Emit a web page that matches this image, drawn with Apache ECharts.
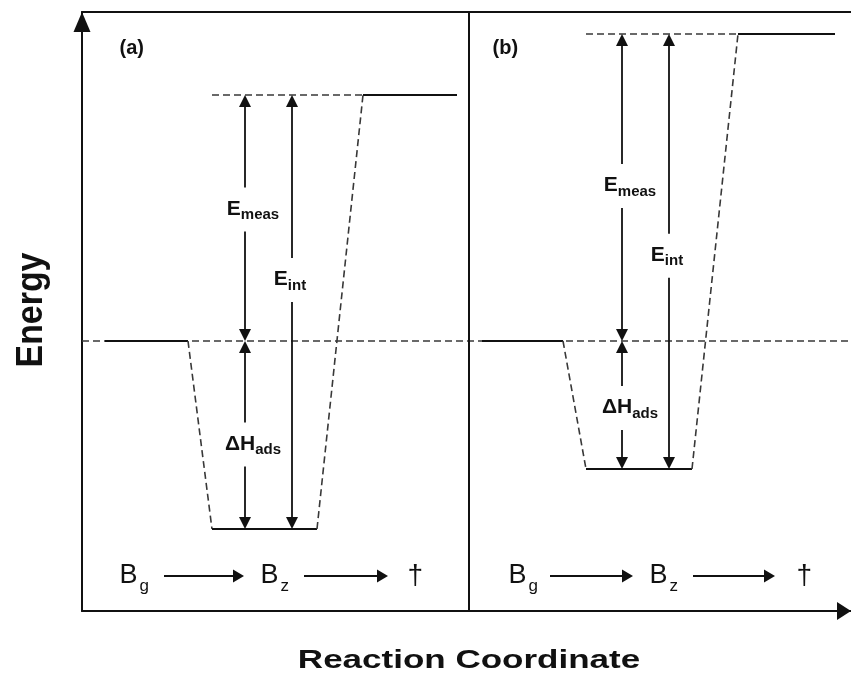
<!DOCTYPE html>
<html>
<head>
<meta charset="utf-8">
<script src="https://cdn.jsdelivr.net/npm/echarts@6/dist/echarts.min.js"></script>
<style>
  html, body { margin: 0; padding: 0; background: #fff; }
  #chart { width: 851px; height: 676px; }
</style>
</head>
<body>
<div id="chart"></div>
<script>
const FONT = '"Liberation Sans", Arial, sans-serif';
const INK = '#111';
const DASH = '#383838';

// Energies relative to the gas-phase level (schematic units).
const panelNames = ['(a)', '(b)'];
const gasEnergy = [0, 0];
const adsorbedEnergy = [-188, -128];
const transitionEnergy = [246, 307];

// Reaction-coordinate extent of each plateau, per panel.
const gasRange = [[23, 106], [400, 481]];
const adsorbedRange = [[130, 235], [504, 610]];
const transitionRange = [[281, 375], [656, 753]];
const panelDivider = 387;
const coordMax = 769;
const energyMin = -270;
const energyMax = 329;

// Vertical arrows: E_meas / ΔH_ads share one position, E_int sits at another.
const measArrowX = [163, 540];
const intArrowX = [210, 587];
// Where along its arrow each label sits (fraction of the arrow span).
const measLabelFrac = [0.535, 0.505];
const intLabelFrac = [0.574, 0.49];
const adsLabelFrac = [0.55, 0.523];

// B_g -> B_z -> dagger scheme along the foot of each panel.
const schemeEnergy = -235;
const schemeText = ['{b|B}{s|g}', '{b|B}{s|z}', '{d|\u2020}'];
const schemeTextX = [[37, 178, 325], [426, 567, 714]];
const schemeArrowX = [[[82, 162], [222, 306]], [[468, 551], [611, 693]]];
const panelLabelPos = [[37, 293], [410, 293]];

const series = [];

function segment(points, dashed, width, color) {
  series.push({
    type: 'line',
    data: points,
    symbol: 'none',
    silent: true,
    animation: false,
    z: 2,
    lineStyle: { color: color || INK, width: width || 2, type: dashed ? [7, 4] : 'solid' }
  });
}

// frame pieces: gas-phase reference and panel divider
segment([[0, 0], [coordMax, 0]], true, 1.6, DASH);
segment([[panelDivider, energyMin], [panelDivider, energyMax]], false, 2, INK);

panelNames.forEach(function (_, p) {
  const g = gasEnergy[p], a = adsorbedEnergy[p], t = transitionEnergy[p];
  segment([[gasRange[p][0], g], [gasRange[p][1], g]], false, 2, INK);
  segment([[gasRange[p][1], g], [adsorbedRange[p][0], a]], true, 1.6, DASH);
  segment([[adsorbedRange[p][0], a], [adsorbedRange[p][1], a]], false, 2, INK);
  segment([[adsorbedRange[p][1], a], [transitionRange[p][0], t]], true, 1.6, DASH);
  segment([[transitionRange[p][0], t], [transitionRange[p][1], t]], false, 2, INK);
  segment([[adsorbedRange[p][0], t], [transitionRange[p][0], t]], true, 1.6, DASH);
});

// arrows: [x1, y1, x2, y2, heads]; heads 2 = both ends, 1 = end only
const arrowData = [];
panelNames.forEach(function (_, p) {
  arrowData.push([measArrowX[p], gasEnergy[p], measArrowX[p], transitionEnergy[p], 2]);
  arrowData.push([measArrowX[p], gasEnergy[p], measArrowX[p], adsorbedEnergy[p], 2]);
  arrowData.push([intArrowX[p], adsorbedEnergy[p], intArrowX[p], transitionEnergy[p], 2]);
  schemeArrowX[p].forEach(function (r) {
    arrowData.push([r[0], schemeEnergy, r[1], schemeEnergy, 1]);
  });
});

function renderArrow(params, api) {
  const a = api.coord([api.value(0), api.value(1)]);
  const b = api.coord([api.value(2), api.value(3)]);
  const both = api.value(4) === 2;
  const horizontal = Math.abs(a[1] - b[1]) < 1;
  const L = horizontal ? 11 : 12;
  const W = horizontal ? 13 : 12;
  const dx = b[0] - a[0], dy = b[1] - a[1];
  const len = Math.hypot(dx, dy);
  const ux = dx / len, uy = dy / len, nx = -uy, ny = ux;
  function head(tip, sx, sy) {
    return {
      type: 'polygon',
      shape: { points: [
        [tip[0], tip[1]],
        [tip[0] - sx * L + nx * W / 2, tip[1] - sy * L + ny * W / 2],
        [tip[0] - sx * L - nx * W / 2, tip[1] - sy * L - ny * W / 2]
      ] },
      style: { fill: INK }
    };
  }
  const start = both ? [a[0] + ux * (L - 1), a[1] + uy * (L - 1)] : a;
  const end = [b[0] - ux * (L - 1), b[1] - uy * (L - 1)];
  const children = [
    { type: 'line', shape: { x1: start[0], y1: start[1], x2: end[0], y2: end[1] },
      style: { stroke: INK, lineWidth: horizontal ? 2 : 1.8 } },
    head(b, ux, uy)
  ];
  if (both) children.push(head(a, -ux, -uy));
  return { type: 'group', children: children };
}

series.push({
  type: 'custom',
  silent: true,
  animation: false,
  z: 3,
  dimensions: ['x1', 'y1', 'x2', 'y2', 'heads'],
  encode: { x: [0, 2], y: [1, 3] },
  data: arrowData,
  renderItem: renderArrow
});

const rich = {
  E: { fontSize: 21, fontWeight: 'bold', fontFamily: FONT, color: INK },
  sub: { fontSize: 15, fontWeight: 'bold', fontFamily: FONT, color: INK, padding: [12, 0, 0, 0] },
  b: { fontSize: 27, fontFamily: FONT, color: INK },
  s: { fontSize: 17, fontFamily: FONT, color: INK, padding: [20, 0, 0, 2] },
  d: { fontSize: 28, fontFamily: FONT, color: INK },
  p: { fontSize: 20, fontWeight: 'bold', fontFamily: FONT, color: INK }
};

const labelData = [];
// label centred on its arrow, nudged sideways by shift (coordinate units)
function arrowLabel(x, lo, hi, frac, text, shift) {
  labelData.push({
    value: [x + shift, lo + frac * (hi - lo)],
    label: {
      position: 'inside', formatter: text,
      backgroundColor: '#fff', padding: [8, 3, 9, 3]
    }
  });
}
function leftLabel(x, y, text) {
  labelData.push({ value: [x, y], label: { position: 'right', distance: 0, formatter: text } });
}

panelNames.forEach(function (name, p) {
  arrowLabel(measArrowX[p], gasEnergy[p], transitionEnergy[p], measLabelFrac[p], '{E|E}{sub|meas}', 8);
  arrowLabel(intArrowX[p], adsorbedEnergy[p], transitionEnergy[p], intLabelFrac[p], '{E|E}{sub|int}', -2);
  arrowLabel(measArrowX[p], gasEnergy[p], adsorbedEnergy[p], adsLabelFrac[p], '{E|\u0394H}{sub|ads}', 8);
  schemeText.forEach(function (t, i) { leftLabel(schemeTextX[p][i], schemeEnergy, t); });
  leftLabel(panelLabelPos[p][0], panelLabelPos[p][1], '{p|' + name + '}');
});

series.push({
  type: 'scatter',
  silent: true,
  animation: false,
  z: 5,
  symbolSize: 1,
  itemStyle: { color: 'rgba(0,0,0,0)', opacity: 1 },
  label: { show: true, rich: rich, color: INK },
  labelLayout: { hideOverlap: false },
  data: labelData
});

const axisLineStyle = { color: INK, width: 2 };
const hidden = { show: false };

const option = {
  backgroundColor: '#fff',
  animation: false,
  grid: { left: 82, top: 12, right: 0, bottom: 65, outerBoundsMode: 'none' },
  xAxis: [
    {
      type: 'value', min: 0, max: coordMax, position: 'bottom',
      axisLine: { show: true, onZero: false, lineStyle: axisLineStyle,
        symbol: ['none', 'triangle'], symbolSize: [18, 14], symbolOffset: [0, -7] },
      axisTick: hidden, axisLabel: hidden, splitLine: hidden
    },
    {
      type: 'value', min: 0, max: coordMax, position: 'top',
      axisLine: { show: true, onZero: false, lineStyle: axisLineStyle },
      axisTick: hidden, axisLabel: hidden, splitLine: hidden
    }
  ],
  yAxis: {
    type: 'value', min: energyMin, max: energyMax,
    axisLine: { show: true, onZero: false, lineStyle: axisLineStyle,
      symbol: ['none', 'triangle'], symbolSize: [17, 20], symbolOffset: [0, -10] },
    axisTick: hidden, axisLabel: hidden, splitLine: hidden
  },
  graphic: [
    {
      type: 'text', x: 32, y: 310, rotation: Math.PI / 2, scaleX: 1.13, scaleY: 1.25,
      style: { text: 'Energy', fontSize: 30, fontWeight: 'bold', fontFamily: FONT,
        fill: INK, align: 'center', verticalAlign: 'middle' }
    },
    {
      type: 'text', x: 469, y: 661, scaleX: 1.4,
      style: { text: 'Reaction Coordinate', fontSize: 25, fontWeight: 'bold', fontFamily: FONT,
        fill: INK, align: 'center', verticalAlign: 'middle' }
    }
  ],
  series: series
};

const chart = echarts.init(document.getElementById('chart'), null, { renderer: 'canvas' });
chart.setOption(option);
</script>
</body>
</html>
